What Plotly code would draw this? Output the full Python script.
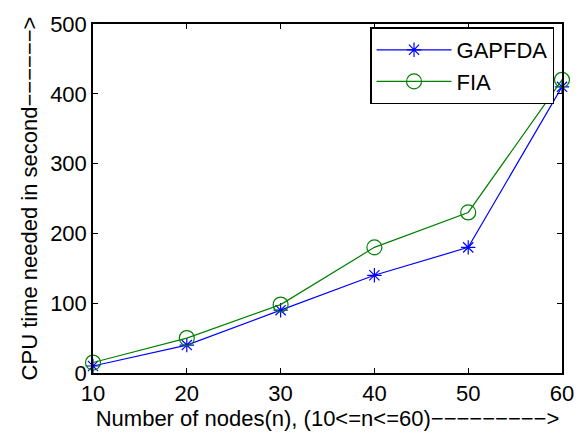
import plotly.graph_objects as go

nodes = [10, 20, 30, 40, 50, 60]
gapfda = [10, 40, 90, 140, 180, 410]
fia = [15, 50, 98, 180, 230, 420]
x_ticks = [10, 20, 30, 40, 50, 60]
y_ticks = [0, 100, 200, 300, 400, 500]
x_title = "Number of nodes(n), (10<=n<=60)−−−−−−−−−>"
y_title = "CPU time needed in second−−−−−−>"

fig = go.Figure()
fig.add_trace(go.Scatter(
    x=nodes, y=gapfda, mode="lines+markers", name="GAPFDA", cliponaxis=False,
    line=dict(color="#0000ff", width=1.2),
    marker=dict(symbol="asterisk-open", size=12, color="#0000ff",
                line=dict(color="#0000ff", width=1.2)),
))
fig.add_trace(go.Scatter(
    x=nodes, y=fia, mode="lines+markers", name="FIA", cliponaxis=False,
    line=dict(color="#008000", width=1.2),
    marker=dict(symbol="circle-open", size=15, color="#008000",
                line=dict(color="#008000", width=1.2)),
))

axis_common = dict(
    showgrid=False, zeroline=False, showline=True, linecolor="black",
    linewidth=1.5, mirror="ticks", ticks="inside", ticklen=5,
    tickcolor="black", tickfont=dict(size=22, color="black"),
)
fig.update_xaxes(range=[10, 60], tickvals=x_ticks,
                 title=dict(text=x_title,
                            font=dict(size=22, color="black"), standoff=0),
                 **axis_common)
fig.update_yaxes(range=[0, 500], tickvals=y_ticks,
                 title=dict(text=y_title,
                            font=dict(size=22, color="black"), standoff=6),
                 **axis_common)

fig.update_layout(
    width=586, height=436,
    margin=dict(l=93, r=17, t=14, b=63),
    paper_bgcolor="white", plot_bgcolor="white",
    font=dict(family="Liberation Sans, Arial, sans-serif", color="black"),
    showlegend=True,
    legend=dict(x=0.983, y=0.99, xanchor="right", yanchor="top",
                bgcolor="white", bordercolor="black", borderwidth=1.5,
                font=dict(size=22, color="black"), itemwidth=75,
                tracegroupgap=0),
)

fig.write_html("out.html")
